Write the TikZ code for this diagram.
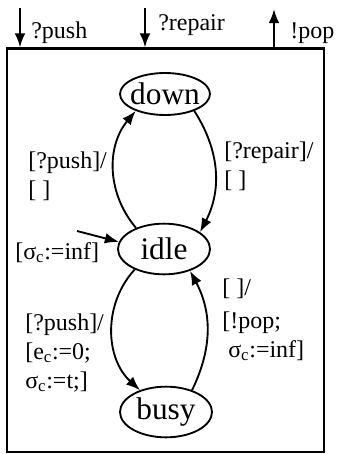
\documentclass[tikz,border=0pt]{standalone}
\usepackage{fontspec}
\setmainfont{Liberation Serif}
\usetikzlibrary{
  arrows.meta,
  shapes.geometric
}
\tikzset{>={Latex[length=10.5pt,width=8pt]}}
\tikzset{state/.style={ellipse, draw, line width=1.4pt, inner sep=0pt,
    minimum width=69pt, minimum height=38pt, font=\fontsize{23.5}{27}\selectfont}}
\tikzset{lbl/.style={anchor=base west, inner sep=0pt, align=left,
    font=\fontsize{18}{21.75}\selectfont}}
\tikzset{trans/.style={->, line width=1.4pt}}

\begin{document}
\begin{tikzpicture}[x=0.75pt,y=0.75pt]
        \useasboundingbox (0,0) rectangle (337,-454); %
        \node[draw, line width=1.6pt, minimum width=237.75pt, minimum
        height=302.6pt, inner sep=0pt] (dev) at (165.5,-250.25) {}; %
        % ports on top of the box
        \coordinate (pushin) at (20,-8); %
        \coordinate (repairin) at (145,-8); %
        \coordinate (popout) at (274,-9); %
        \draw[->, line width=1.6pt] (pushin) -- (pushin |- dev.north); %
        \draw[->, line width=1.6pt] (repairin) -- (repairin |- dev.north); %
        \draw[->, line width=1.6pt] (popout |- dev.north) -- (popout); %
        \node[lbl] (lpush) at (31,-38) {?push}; %
        \node[lbl] (lrepair) at (158,-30) {?repair}; %
        \node[lbl] (lpop) at (290,-38) {!pop}; %
        % states
        \node[state, inner xsep=-3pt, minimum width=67.5pt, minimum
        height=31.5pt] (down) at (165,-94) {down}; %
        \node[state] (idle) at (164,-249) {idle}; %
        \node[state] (busy) at (166,-412) {busy}; %
        % transitions
        \coordinate (init) at (77,-231); %
        \draw[trans] (init) -- (idle.171); %
        \draw[trans] (idle.143) to[bend left=40] (down.210); %
        \draw[trans] (down.-30) to[bend left=30] (idle.25); %
        \draw[trans] (idle.215) to[bend right=45] (busy.140); %
        \draw[trans] (busy.40) to[bend right=27] (idle.-40); %
        % labels sit on the baseline of their last line
        \node[lbl] (tdown) at (28,-197) {[?push]/\\{}[~]}; %
        \node[lbl] (tup) at (224,-187) {[?repair]/\\{}[~]}; %
        \node[lbl] (tinit) at (15,-259) {[σ\textsubscript{c}:=inf]}; %
        \node[lbl] (tbusy) at (25,-388) {[?push]/\\{}[e\textsubscript{c}:=0;\\σ\textsubscript{c}:=t;]}; %
        \node[lbl] (tidle) at (222,-357) {[~]/\\[3pt]{}[!pop;\\~σ\textsubscript{c}:=inf]}; %
      \end{tikzpicture}
\end{document}
